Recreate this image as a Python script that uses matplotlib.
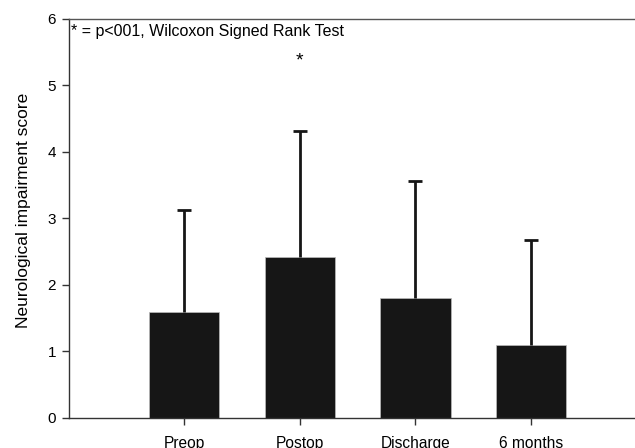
import matplotlib
matplotlib.use("Agg")
import matplotlib.pyplot as plt

categories = ["Preop", "Postop", "Discharge", "6 months"]
means = [1.60, 2.42, 1.81, 1.09]
sd_upper = [1.53, 1.90, 1.75, 1.58]
yticks = [0, 1, 2, 3, 4, 5, 6]

plt.rcParams['font.family'] = ['Liberation Sans', 'DejaVu Sans']

fig = plt.figure(figsize=(6.35, 4.48), dpi=100)
ax = fig.add_axes([0.108, 0.067, 0.892, 0.891])

x = list(range(1, len(categories) + 1))
tops = [m + e for m, e in zip(means, sd_upper)]
ax.bar(x, means, width=0.61, color="#161616", edgecolor="#bbbbbb", linewidth=0.5, zorder=2)
ax.vlines(x, means, tops, color="#161616", linewidth=2.0, zorder=3)
ax.hlines(tops, [xi - 0.06 for xi in x], [xi + 0.06 for xi in x],
          color="#161616", linewidth=2.0, zorder=3)

ax.set_xlim(0, 4.9)
ax.set_ylim(0, 6)
ax.set_xticks(x)
ax.set_xticklabels(categories, fontsize=11.2)
ax.set_yticks(yticks)
ax.set_yticklabels([str(t) for t in yticks], fontsize=11)
ax.tick_params(axis="x", length=5, width=1, pad=8, color="#333333")
ax.tick_params(axis="y", length=5, width=1, pad=4, color="#333333")
for s in ["left", "bottom", "top"]:
    ax.spines[s].set_color("#333333")
    ax.spines[s].set_linewidth(1.0)
ax.spines["top"].set_color("#555555")
ax.spines["right"].set_visible(False)

ax.set_ylabel("Neurological impairment score", fontsize=12.5)
ax.yaxis.set_label_coords(-0.066, 0.521)
ax.text(0.005, 0.967, "* = p<001, Wilcoxon Signed Rank Test", transform=ax.transAxes,
        fontsize=11.5, ha="left", va="center")
ax.text(2, 5.37, "*", fontsize=14, ha="center", va="center")

fig.savefig("out.png", dpi=100)
